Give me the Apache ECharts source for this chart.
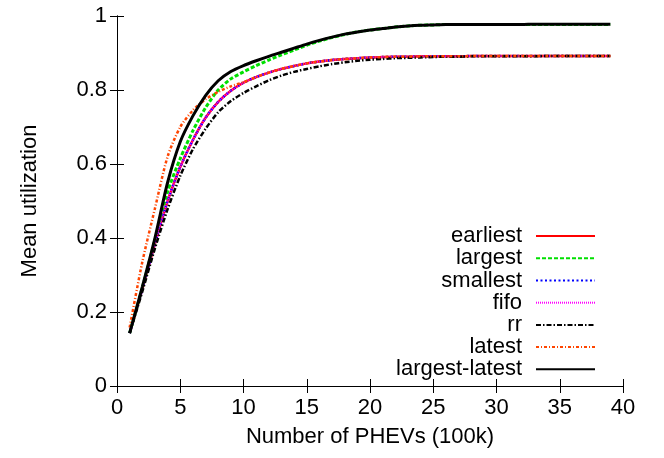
<!DOCTYPE html>
<html>
<head>
<meta charset="utf-8">
<script src="https://cdn.jsdelivr.net/npm/echarts@6/dist/echarts.min.js"></script>
<style>html,body{margin:0;padding:0;background:#fff}#c{width:664px;height:458px}</style>
</head>
<body>
<div id="c"></div>
<script>
// x values: number of PHEVs (100k)
var xs = [1,2,3,4,5,6,7,8,9,10,11,12,13,14,15,16,17,18,19,20,21,22,23,24,25,26,27,28,29,30,31,32,33,34,35,36,37,38,39];
var earliest = [0.143,0.262,0.385,0.500,0.592,0.665,0.725,0.768,0.798,0.820,0.835,0.847,0.857,0.865,0.872,0.877,0.881,0.884,0.886,0.888,0.889,0.890,0.890,0.891,0.891,0.891,0.891,0.892,0.892,0.892,0.892,0.892,0.892,0.892,0.892,0.892,0.892,0.892,0.892];
var largest = [0.143,0.265,0.395,0.525,0.615,0.690,0.752,0.800,0.830,0.849,0.866,0.881,0.895,0.908,0.921,0.932,0.942,0.950,0.957,0.962,0.966,0.970,0.973,0.975,0.976,0.977,0.977,0.977,0.977,0.977,0.977,0.977,0.977,0.977,0.977,0.977,0.977,0.977,0.977];
var smallest = [0.143,0.262,0.385,0.500,0.592,0.665,0.725,0.768,0.798,0.820,0.835,0.847,0.857,0.865,0.872,0.877,0.881,0.884,0.886,0.888,0.889,0.890,0.890,0.891,0.891,0.891,0.891,0.892,0.892,0.892,0.892,0.892,0.892,0.892,0.892,0.892,0.892,0.892,0.892];
var fifo = [0.143,0.262,0.385,0.500,0.592,0.665,0.725,0.768,0.798,0.820,0.835,0.847,0.857,0.865,0.872,0.877,0.881,0.884,0.886,0.888,0.889,0.890,0.890,0.891,0.891,0.891,0.891,0.892,0.892,0.892,0.892,0.892,0.892,0.892,0.892,0.892,0.892,0.892,0.892];
var rr = [0.143,0.255,0.372,0.478,0.568,0.640,0.695,0.740,0.770,0.792,0.810,0.826,0.839,0.849,0.857,0.864,0.870,0.875,0.879,0.882,0.884,0.886,0.887,0.888,0.889,0.890,0.890,0.891,0.891,0.891,0.891,0.891,0.891,0.892,0.892,0.892,0.892,0.892,0.892];
var latest = [0.158,0.335,0.480,0.620,0.700,0.745,0.775,0.795,0.810,0.821,0.835,0.847,0.857,0.865,0.872,0.877,0.881,0.884,0.886,0.888,0.889,0.890,0.890,0.891,0.891,0.891,0.891,0.892,0.892,0.892,0.892,0.892,0.892,0.892,0.892,0.892,0.892,0.892,0.892];
var largestLatest = [0.143,0.268,0.400,0.550,0.660,0.730,0.785,0.825,0.850,0.866,0.879,0.891,0.902,0.913,0.924,0.934,0.943,0.951,0.957,0.962,0.966,0.970,0.973,0.975,0.976,0.977,0.977,0.977,0.977,0.977,0.977,0.977,0.978,0.978,0.978,0.978,0.978,0.978,0.978];

var names = ['earliest','largest','smallest','fifo','rr','latest','largest-latest'];
var values = [earliest, largest, smallest, fifo, rr, latest, largestLatest];
var colors = ['#ff0000','#00e000','#0000ff','#ff00ff','#000000','#ff4500','#000000'];
var widths = [2.5, 3, 2.5, 2, 2.5, 2.5, 3];
var types = ['solid',[4,2],[2,2.5],[1,1],[5,2,1.5,2],[3,2,1,2],'solid'];

function pairs(v){ return xs.map(function(x,i){ return [x, v[i]]; }); }

var FONT = 'Liberation Sans';
var series = names.map(function(n, i){
  return {
    name: n, type: 'line', data: pairs(values[i]),
    xAxisIndex: 0, yAxisIndex: 0,
    showSymbol: false, symbol: 'none',
    smooth: 0.25,
    lineStyle: { color: colors[i], width: widths[i], type: types[i] },
    itemStyle: { color: colors[i] },
    z: 2 + i, animation: false
  };
});

var axisLine = { show: true, lineStyle: { color: '#000', width: 1 } };
var tick = { show: true, inside: true, length: 7, lineStyle: { color: '#000', width: 1 } };
var labelStyle = { color: '#000', fontFamily: FONT, fontSize: 22 };

var chart = echarts.init(document.getElementById('c'), null, { renderer: 'canvas' });
chart.setOption({
  animation: false,
  backgroundColor: '#fff',
  grid: { left: 117, right: 41, top: 16, bottom: 72, containLabel: false },
  legend: {
    orient: 'vertical', align: 'right', right: 63, top: 220,
    itemWidth: 59, itemHeight: 10, itemGap: 0,
    itemStyle: { opacity: 0 },
    textStyle: { color: '#000', fontFamily: FONT, fontSize: 22, lineHeight: 22.2, height: 22.2, padding: [0, 9, 0, 0] },
    data: names
  },
  xAxis: [
    { type: 'value', min: 0, max: 40, interval: 5, position: 'bottom',
      axisLine: axisLine, axisTick: tick, splitLine: { show: false },
      axisLabel: Object.assign({ margin: 11 }, labelStyle),
      name: 'Number of PHEVs (100k)', nameLocation: 'middle', nameGap: 40,
      nameTextStyle: labelStyle },
    { type: 'value', min: 0, max: 40, interval: 5, position: 'top',
      axisLine: axisLine, axisTick: tick, splitLine: { show: false },
      axisLabel: { show: false } }
  ],
  yAxis: [
    { type: 'value', min: 0, max: 1, interval: 0.2, position: 'left',
      axisLine: axisLine, axisTick: tick, splitLine: { show: false },
      axisLabel: Object.assign({ margin: 10 }, labelStyle),
      name: 'Mean utilization', nameLocation: 'middle', nameGap: 76,
      nameTextStyle: labelStyle },
    { type: 'value', min: 0, max: 1, interval: 0.2, position: 'right',
      axisLine: axisLine, axisTick: tick, splitLine: { show: false },
      axisLabel: { show: false } }
  ],
  series: series
});
</script>
</body>
</html>
